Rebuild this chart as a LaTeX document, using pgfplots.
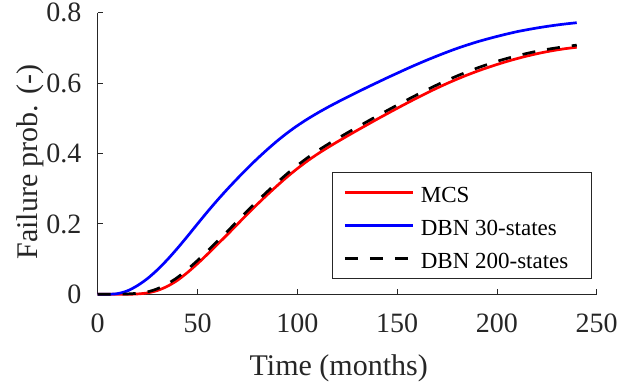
\documentclass[border=0pt]{standalone}
\usepackage{pgfplots}
\pgfplotsset{compat=1.18}
\usepackage{fontspec}
\setmainfont{Liberation Serif}
\definecolor{axgray}{HTML}{262626}
\begin{document}
\begin{tikzpicture}
\begin{axis}[
  name=ax,
  scale only axis, width=499pt, height=281.6pt,
  xmin=0, xmax=250, ymin=0, ymax=0.8,
  axis x line*=bottom, axis y line*=left,
  axis line style={axgray, line width=0.8pt},
  tick style={axgray, line width=0.8pt},
  tick align=inside, major tick length=5pt,
  xtick={0,50,100,150,200,250},
  ytick={0,0.2,0.4,0.6,0.8},
  /pgf/number format/assume math mode=true,
  ticklabel style={font=\fontsize{28}{28}\selectfont, text=axgray},
  xticklabel style={anchor=base, inner sep=0pt, yshift=-38.4pt},
  yticklabel style={anchor=east, inner sep=0pt, xshift=-16pt},
  xlabel={Time (months)}, ylabel={Failure prob. (-)},
  label style={font=\fontsize{30}{30}\selectfont, text=axgray, inner sep=0pt},
  xlabel style={at={(axis description cs:0.483,-0.2866)}, anchor=base},
  ylabel style={at={(axis description cs:-0.1216,0.4698)}, anchor=base},
  clip=false,
  legend style={
    at={(axis description cs:0.469,0.4354)}, anchor=north west,
    draw=axgray, line width=1pt, fill=white,
    inner xsep=11.3pt, inner ysep=10pt,
    font=\fontsize{23}{23}\selectfont,
    nodes={inner sep=0pt, text height=20pt, text depth=0pt},
    row sep=13pt,
    /tikz/every odd column/.append style={column sep=6.6pt},
  },
  legend cell align=left,
  legend image code/.code={\draw[#1] (0pt,0pt) -- (68pt,0pt);},
]
\addplot[red, line width=2.7pt, smooth] coordinates {
(0,0) (5,0) (10,0) (15,0) (20,0.001) (25,0.004) (30,0.011) (35,0.023)
(40,0.040) (45,0.062) (50,0.087) (55,0.114) (60,0.142) (65,0.170) (70,0.199)
(75,0.228) (80,0.256) (85,0.283) (90,0.309) (95,0.334) (100,0.357)
(105,0.3785) (110,0.398) (115,0.416) (120,0.433) (125,0.4495) (130,0.4657)
(135,0.4817) (140,0.4975) (145,0.513) (150,0.5283) (155,0.5433) (160,0.558)
(165,0.5722) (170,0.5859) (175,0.5989) (180,0.6112) (185,0.6227) (190,0.6335)
(195,0.6435) (200,0.6528) (205,0.6615) (210,0.6695) (215,0.6768) (220,0.6834)
(225,0.6892) (230,0.6942) (235,0.6984) (240,0.7018)
};
\addlegendentry{MCS}
\addplot[blue, line width=2.7pt, smooth] coordinates {
(0,0) (5,0) (10,0.002) (15,0.010) (20,0.025) (25,0.045) (30,0.070)
(35,0.099) (40,0.131) (45,0.165) (50,0.200) (55,0.2345) (60,0.2675) (65,0.299)
(70,0.329) (75,0.358) (80,0.3855) (85,0.4115) (90,0.436) (95,0.4585) (100,0.479)
(105,0.4975) (110,0.5145) (115,0.5305) (120,0.5455) (125,0.560) (130,0.574)
(135,0.588) (140,0.6015) (145,0.615) (150,0.628) (155,0.641) (160,0.6535)
(165,0.6655) (170,0.677) (175,0.688) (180,0.6985) (185,0.708) (190,0.717)
(195,0.725) (200,0.7325) (205,0.7395) (210,0.746) (215,0.7515) (220,0.7565)
(225,0.761) (230,0.765) (235,0.7685) (240,0.7715)
};
\addlegendentry{DBN 30-states}
\addplot[black, line width=2.7pt, dash pattern=on 13pt off 12pt, smooth] coordinates {
(0,0) (5,0) (10,0) (15,0.001) (20,0.003) (25,0.007) (30,0.016) (35,0.030)
(40,0.048) (45,0.071) (50,0.096) (55,0.123) (60,0.151) (65,0.179) (70,0.208)
(75,0.237) (80,0.265) (85,0.292) (90,0.318) (95,0.343) (100,0.366)
(105,0.3875) (110,0.407) (115,0.425) (120,0.442) (125,0.4585) (130,0.4747)
(135,0.4907) (140,0.5065) (145,0.522) (150,0.5373) (155,0.5523) (160,0.567)
(165,0.5812) (170,0.5949) (175,0.6079) (180,0.6202) (185,0.6317) (190,0.6425)
(195,0.6525) (200,0.6618) (205,0.670) (210,0.6775) (215,0.6843) (220,0.6904)
(225,0.6957) (230,0.7002) (235,0.7044) (240,0.7078)
};
\addlegendentry{DBN 200-states\hspace*{11.8pt}}
\end{axis}
\pgfresetboundingbox
\path ([xshift=-97.7pt,yshift=-88.7pt]ax.south west) rectangle ([xshift=39.3pt,yshift=12.7pt]ax.north east);
\end{tikzpicture}
\end{document}
